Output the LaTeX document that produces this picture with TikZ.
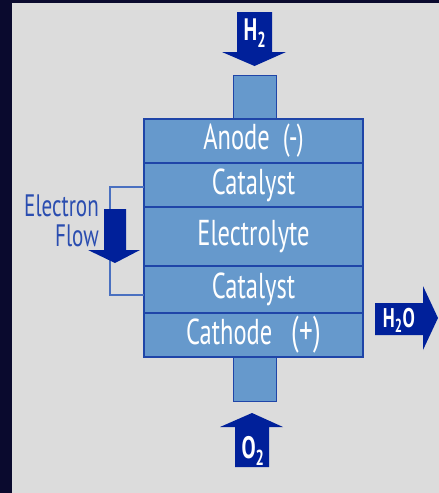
\documentclass[tikz,border=0pt]{standalone}
\usepackage{fontspec}
\setmainfont{PT Sans}[FakeStretch=0.68]
\usetikzlibrary{positioning}
\definecolor{nightsky}{HTML}{0A0A2E}
\definecolor{panel}{HTML}{DCDCDC}
\definecolor{layerfill}{HTML}{6699CC}
\definecolor{layerline}{HTML}{1F45A8}
\definecolor{loopline}{HTML}{4A70C0}
\definecolor{arrowblue}{HTML}{00209A}
\definecolor{flowtext}{HTML}{2A4DB0}

\begin{document}
\begin{tikzpicture}
        [   x = 1pt, y = -1pt
        ,   layer/.style =
            {   draw = layerline, line width = 1.4pt, fill = layerfill
            ,   text = white, minimum width = 219pt, inner sep = 0pt
            ,   outer sep = 0pt, font = \fontsize{36}{36}\selectfont
            }
        ,   port/.style =
            {   draw = layerline, line width = 1pt, fill = layerfill
            ,   minimum width = 43pt, minimum height = 44pt, outer sep = 0pt
            }
        ,   flow/.style = { fill = arrowblue }
        ,   gas/.style = { text = white, inner sep = 0pt, font = \fontsize{31}{31}\selectfont\bfseries }
        ]
        % background
        \fill[nightsky] (0,0) rectangle (439,493);
        \fill[panel] (12,3) rectangle (439,493);
        \useasboundingbox (0,0) rectangle (439,493);

        % gas ports
        \node[port] (portTop) at (254.5,97) {};
        \node[port] (portBot) at (254.5,379) {};

        % cell layers
        \node[layer, minimum height = 44pt] (anode) at (253.5,141) {Anode\ \ (-)};
        \node[layer, minimum height = 44pt, below = 0pt of anode] (catA) {Catalyst};
        \node[layer, minimum height = 59pt, below = 0pt of catA] (electrolyte) {Electrolyte};
        \node[layer, minimum height = 47pt, below = 0pt of electrolyte] (catC) {Catalyst};
        \node[layer, minimum height = 44pt, below = 0pt of catC] (cathode) {Cathode\ \ \ {\fontsize{40}{40}\selectfont(+)}};

        % electron loop
        \coordinate (loopTop) at (110,187);
        \coordinate (loopBot) at (110,295);
        \draw[loopline, line width = 1.5pt]
            (catA.west |- loopTop) -- (loopTop) -- (loopBot) -- (catC.west |- loopBot);
        \fill[flow] (104,209) -- (126,209) -- (126,250) -- (140,250)
            -- (115,263) -- (88,250) -- (104,250) -- cycle;
        \node[flowtext, align = right, anchor = east, inner sep = 0pt, font = \fontsize{31}{30}\selectfont]
            (flowlabel) at (99,221) {Electron\\Flow};

        % hydrogen in
        \fill[flow] (237,12) -- (272,12) -- (272,52) -- (286,52)
            -- (254.5,66) -- (222,52) -- (237,52) -- cycle;
        \node[gas] (hydrogen) at (255,33) {H\textsubscript{2}};

        % oxygen in
        \fill[flow] (235,467) -- (269,467) -- (269,427) -- (283,427)
            -- (252,413) -- (220,427) -- (235,427) -- cycle;
        \node[gas] (oxygen) at (253,451) {O\textsubscript{2}};

        % water out
        \fill[flow] (375,303) -- (423,303) -- (423,286) -- (438,318)
            -- (423,350) -- (423,335) -- (375,335) -- cycle;
        \node[gas, font = \fontsize{27}{27}\selectfont\bfseries] (water) at (399,320) {H\textsubscript{2}O};
    \end{tikzpicture}
\end{document}
